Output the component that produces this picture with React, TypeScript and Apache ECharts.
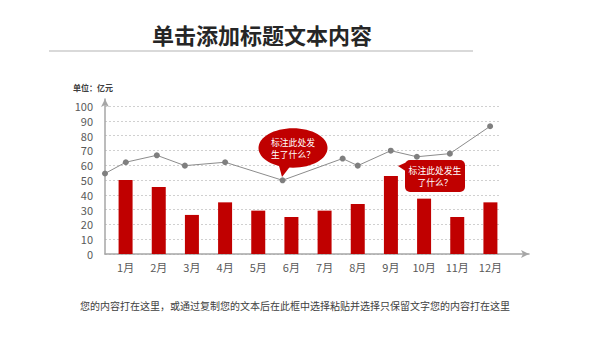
import React, { useEffect, useRef } from "react";
import * as echarts from "echarts";

const months = ["1月", "2月", "3月", "4月", "5月", "6月", "7月", "8月", "9月", "10月", "11月", "12月"];
const barValues = [50, 45.3, 26.4, 34.9, 29.3, 25, 29.3, 33.8, 52.7, 37.4, 25, 34.9];
const lineX = [0, 0.63, 1.57, 2.42, 3.64, 5.38, 7.2, 7.66, 8.66, 9.45, 10.45, 11.67];
const lineY = [54.4, 62, 66.7, 59.7, 62, 49.8, 64.5, 59.7, 69.8, 65.7, 67.8, 86.3];
const yTicks = { min: 0, max: 100, interval: 10 };

const FONT = '"Noto Sans CJK SC", "Noto Sans", sans-serif';

function label(x: number, y: number, text: string, size: number) {
  return {
    type: "text",
    z: 11,
    style: {
      x,
      y,
      text,
      font: `${size}px ${FONT}`,
      fill: "#ffffff",
      textAlign: "center",
      textVerticalAlign: "middle",
    },
  };
}

export default function App() {
  const ref = useRef<HTMLDivElement>(null);
  useEffect(() => {
    if (!ref.current) return;
    const chart = echarts.init(ref.current, null, { renderer: "svg" });
    const axisGray = "#a6a6a6";
    chart.setOption({
      animation: false,
      backgroundColor: "#ffffff",
      textStyle: { fontFamily: FONT },
      grid: [
        { left: 105, top: 106, width: 396, height: 148 },
        { left: 109, top: 106, width: 398, height: 148 },
        { left: 105, top: 99, width: 424, height: 155 },
      ],
      xAxis: [
        { gridIndex: 0, type: "value", min: 0, max: 12, show: false },
        {
          gridIndex: 1,
          type: "category",
          data: months,
          axisLine: { show: false },
          axisTick: { show: false },
          axisLabel: { color: "#595959", fontSize: 11, margin: 7, fontFamily: FONT },
        },
        {
          gridIndex: 2,
          type: "value",
          min: 0,
          max: 1,
          axisLabel: { show: false },
          axisTick: { show: false },
          splitLine: { show: false },
          axisLine: { show: true, lineStyle: { color: axisGray, width: 1.5 }, symbol: ["none", "arrow"], symbolSize: [6, 8] },
        },
      ],
      yAxis: [
        {
          gridIndex: 0,
          type: "value",
          min: yTicks.min,
          max: yTicks.max,
          interval: yTicks.interval,
          axisLine: { show: false },
          axisTick: { show: false },
          axisLabel: { color: "#595959", fontSize: 11, margin: 12, fontFamily: FONT },
          splitLine: { show: true, lineStyle: { color: "#d0d0d0", type: [2, 2], width: 1 } },
        },
        { gridIndex: 1, type: "value", min: 0, max: 100, show: false },
        {
          gridIndex: 2,
          type: "value",
          min: 0,
          max: 1,
          axisLabel: { show: false },
          axisTick: { show: false },
          splitLine: { show: false },
          axisLine: { show: true, lineStyle: { color: axisGray, width: 1.5 }, symbol: ["none", "arrow"], symbolSize: [6, 8] },
        },
      ],
      series: [
        {
          type: "bar",
          xAxisIndex: 1,
          yAxisIndex: 1,
          data: barValues,
          barWidth: 14,
          itemStyle: { color: "#c00000" },
        },
        {
          type: "line",
          xAxisIndex: 0,
          yAxisIndex: 0,
          clip: false,
          data: lineX.map((x, i) => [x, lineY[i]]),
          symbol: "circle",
          symbolSize: 6,
          lineStyle: { color: "#8c8c8c", width: 1 },
          itemStyle: { color: "#7f7f7f" },
          z: 5,
        },
      ],
      graphic: [
        {
          type: "text",
          style: {
            x: 262,
            y: 34,
            text: "单击添加标题文本内容",
            font: `bold 22px ${FONT}`,
            fill: "#262626",
            textAlign: "center",
            textVerticalAlign: "middle",
          },
        },
        {
          type: "line",
          shape: { x1: 49, y1: 51, x2: 473, y2: 51 },
          style: { stroke: "#d9d9d9", lineWidth: 2 },
        },
        {
          type: "text",
          style: {
            x: 73,
            y: 87,
            text: "单位：亿元",
            font: `bold 8px ${FONT}`,
            fill: "#404040",
            textVerticalAlign: "middle",
          },
        },
        {
          type: "ellipse",
          shape: { cx: 293, cy: 148, rx: 34.5, ry: 19.7 },
          style: { fill: "#c00000" },
          z: 10,
        },
        {
          type: "polygon",
          shape: { points: [[278, 162], [292, 164], [282, 177]] },
          style: { fill: "#c00000" },
          z: 10,
        },
        label(293, 142.5, "标注此处发", 8.8),
        label(293, 154.5, "生了什么？", 8.8),
        {
          type: "rect",
          shape: { x: 405, y: 160, width: 60, height: 32, r: 5 },
          style: { fill: "#c00000" },
          z: 10,
        },
        {
          type: "polygon",
          shape: { points: [[407, 162], [407, 172], [398, 166]] },
          style: { fill: "#c00000" },
          z: 10,
        },
        label(435, 170.5, "标注此处发生", 8.8),
        label(435, 182.5, "了什么？", 8.8),
        {
          type: "text",
          style: {
            x: 80,
            y: 305,
            text: "您的内容打在这里，或通过复制您的文本后在此框中选择粘贴并选择只保留文字您的内容打在这里",
            font: `10px ${FONT}`,
            fill: "#404040",
            textVerticalAlign: "middle",
          },
        },
      ],
    });
    return () => chart.dispose();
  }, []);
  return (
    <div
      ref={ref}
      style={{ position: "fixed", left: 0, top: 0, width: 600, height: 338, background: "#fff" }}
    />
  );
}
